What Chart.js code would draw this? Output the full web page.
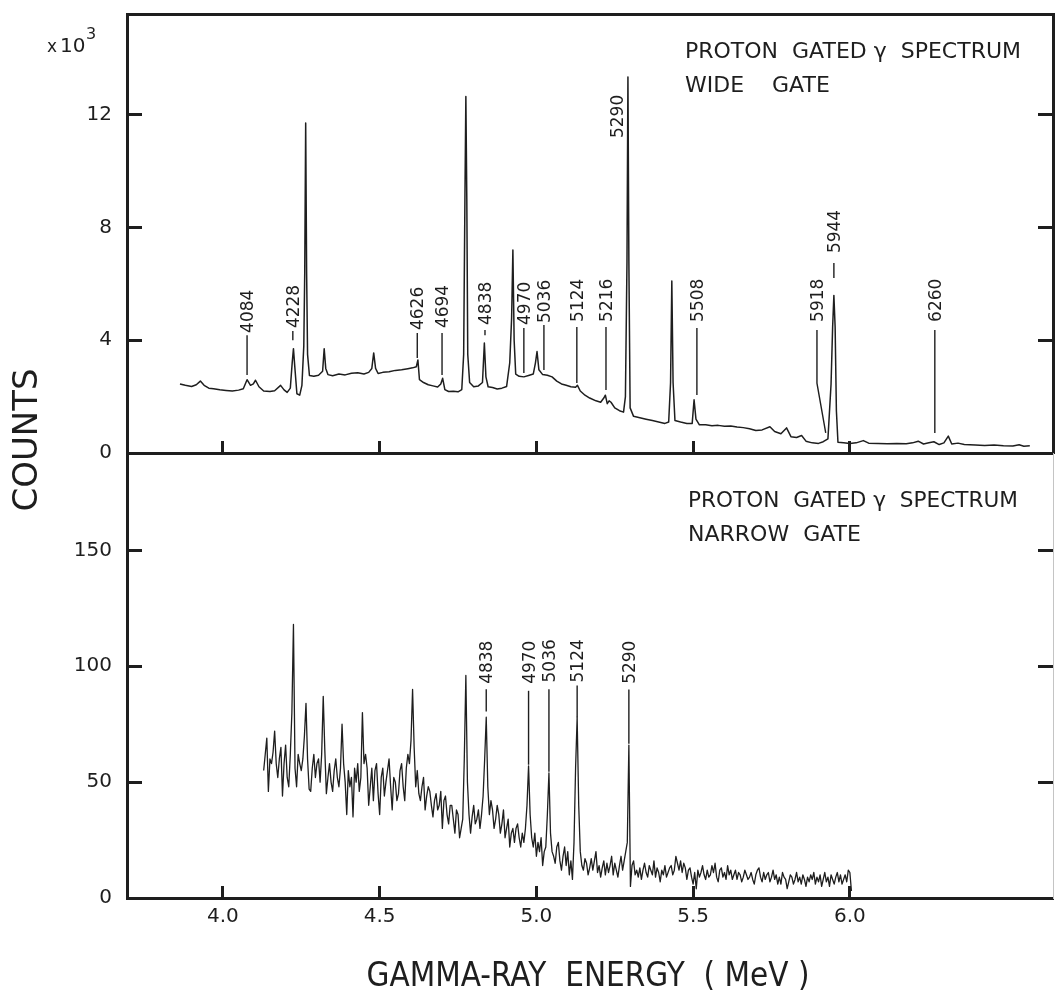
<!DOCTYPE html>
<html>
<head>
<meta charset="utf-8">
<title>Proton gated gamma spectra</title>
<script src="https://cdn.jsdelivr.net/npm/chart.js@4.4.1/dist/chart.umd.min.js"></script>
<style>
  html, body { margin: 0; padding: 0; background: #fff; }
  #figure { position: relative; width: 1058px; height: 994px; overflow: hidden; background: #fff; }
  #figure canvas { position: absolute; left: 0; }
  #wideChart { top: 0; }
  #narrowChart { top: 340px; }
</style>
</head>
<body>
<div id="figure">
  <canvas id="wideChart" width="1058" height="470"></canvas>
  <canvas id="narrowChart" width="1058" height="654"></canvas>
</div>
<script>
const INK = '#1e1e1e';
const FONT = '"DejaVu Sans", "Liberation Sans", sans-serif';
const CAP = 0.73;

// energy axis (MeV), shared by both panels
const energyRange = [3.694, 6.648];
const energyTicks = [4.0, 4.5, 5.0, 5.5, 6.0];

// wide gate spectrum, counts x10^3
const wideRange = [0, 15.57];
const wideTicks = [0, 4, 8, 12];
const wideRightTicks = [4, 8, 12];
const wideEnergy = [
    3.863, 3.880, 3.900, 3.915, 3.928, 3.940, 3.955, 3.970, 3.990, 4.010,
    4.030, 4.050, 4.065, 4.077, 4.088, 4.097, 4.104, 4.115, 4.130, 4.150,
    4.165, 4.184, 4.195, 4.205, 4.215, 4.221, 4.225, 4.229, 4.236, 4.245,
    4.252, 4.258, 4.261, 4.264, 4.267, 4.270, 4.276, 4.290, 4.305, 4.318,
    4.323, 4.328, 4.335, 4.350, 4.370, 4.390, 4.410, 4.430, 4.450, 4.465,
    4.475, 4.481, 4.487, 4.495, 4.510, 4.530, 4.550, 4.570, 4.590, 4.605,
    4.617, 4.622, 4.627, 4.640, 4.655, 4.670, 4.685, 4.695, 4.701, 4.708,
    4.720, 4.735, 4.750, 4.762, 4.768, 4.772, 4.775, 4.778, 4.781, 4.787,
    4.800, 4.815, 4.828, 4.834, 4.839, 4.846, 4.860, 4.875, 4.890, 4.905,
    4.915, 4.921, 4.925, 4.929, 4.934, 4.945, 4.960, 4.975, 4.990, 4.997,
    5.002, 5.008, 5.020, 5.035, 5.050, 5.065, 5.080, 5.095, 5.110, 5.125,
    5.131, 5.140, 5.155, 5.170, 5.190, 5.205, 5.215, 5.220, 5.226, 5.232,
    5.238, 5.250, 5.265, 5.278, 5.284, 5.289, 5.292, 5.295, 5.299, 5.310,
    5.330, 5.350, 5.370, 5.390, 5.410, 5.422, 5.428, 5.432, 5.436, 5.442,
    5.460, 5.480, 5.497, 5.503, 5.509, 5.520, 5.540, 5.560, 5.580, 5.600,
    5.620, 5.640, 5.660, 5.680, 5.700, 5.720, 5.745, 5.760, 5.780, 5.798,
    5.812, 5.830, 5.846, 5.860, 5.880, 5.900, 5.915, 5.930, 5.940, 5.945,
    5.949, 5.953, 5.957, 5.962, 5.980, 6.000, 6.020, 6.043, 6.060, 6.090,
    6.120, 6.150, 6.180, 6.200, 6.218, 6.235, 6.252, 6.268, 6.285, 6.300,
    6.314, 6.325, 6.345, 6.365, 6.400, 6.430, 6.460, 6.490, 6.520, 6.540,
    6.555, 6.574
];
const wideCounts = [
    2.45, 2.40, 2.36, 2.42, 2.55, 2.40, 2.30, 2.28, 2.24, 2.22,
    2.20, 2.23, 2.28, 2.60, 2.40, 2.45, 2.58, 2.35, 2.20, 2.18,
    2.21, 2.40, 2.24, 2.15, 2.30, 3.20, 3.70, 3.10, 2.10, 2.05,
    2.40, 3.80, 6.40, 11.70, 6.40, 3.50, 2.75, 2.72, 2.76, 2.90,
    3.70, 3.00, 2.78, 2.74, 2.80, 2.77, 2.83, 2.85, 2.80, 2.86,
    3.00, 3.55, 3.00, 2.82, 2.86, 2.88, 2.93, 2.95, 2.99, 3.02,
    3.06, 3.30, 2.60, 2.50, 2.42, 2.38, 2.34, 2.45, 2.65, 2.25,
    2.18, 2.19, 2.17, 2.25, 3.50, 9.00, 12.64, 9.00, 3.50, 2.50,
    2.35, 2.38, 2.50, 3.90, 2.70, 2.35, 2.32, 2.27, 2.30, 2.36,
    3.20, 4.80, 7.20, 4.00, 2.80, 2.72, 2.70, 2.75, 2.80, 3.20,
    3.60, 2.95, 2.78, 2.76, 2.70, 2.55, 2.45, 2.40, 2.35, 2.33,
    2.40, 2.20, 2.05, 1.95, 1.85, 1.80, 1.95, 2.05, 1.75, 1.85,
    1.80, 1.60, 1.50, 1.45, 2.00, 6.80, 13.34, 6.80, 1.60, 1.30,
    1.25, 1.20, 1.15, 1.10, 1.05, 1.10, 2.50, 6.10, 2.50, 1.15,
    1.10, 1.05, 1.05, 1.89, 1.20, 1.00, 1.00, 0.97, 0.98, 0.95,
    0.96, 0.92, 0.90, 0.86, 0.80, 0.82, 0.93, 0.76, 0.68, 0.89,
    0.58, 0.55, 0.62, 0.42, 0.36, 0.34, 0.40, 0.50, 2.45, 4.46,
    5.59, 4.46, 1.50, 0.38, 0.36, 0.34, 0.36, 0.44, 0.35, 0.34,
    0.33, 0.34, 0.33, 0.36, 0.42, 0.32, 0.36, 0.40, 0.30, 0.36,
    0.60, 0.32, 0.35, 0.30, 0.28, 0.27, 0.28, 0.26, 0.25, 0.29,
    0.24, 0.26
];

// narrow gate spectrum, counts per channel
const narrowRange = [0, 192];
const narrowTicks = [0, 50, 100, 150];
const narrowRightTicks = [50, 100, 150];
const narrowEnergy = [
    4.130, 4.135, 4.140, 4.145, 4.150, 4.155, 4.160, 4.165, 4.170, 4.175,
    4.180, 4.185, 4.190, 4.195, 4.200, 4.205, 4.210, 4.215, 4.220, 4.225,
    4.230, 4.235, 4.240, 4.245, 4.250, 4.255, 4.260, 4.265, 4.270, 4.275,
    4.280, 4.285, 4.290, 4.295, 4.300, 4.305, 4.310, 4.315, 4.320, 4.325,
    4.330, 4.335, 4.340, 4.345, 4.350, 4.355, 4.360, 4.365, 4.370, 4.375,
    4.380, 4.385, 4.390, 4.395, 4.400, 4.405, 4.410, 4.415, 4.420, 4.425,
    4.430, 4.435, 4.440, 4.445, 4.450, 4.455, 4.460, 4.465, 4.470, 4.475,
    4.480, 4.485, 4.490, 4.495, 4.500, 4.505, 4.510, 4.515, 4.520, 4.525,
    4.530, 4.535, 4.540, 4.545, 4.550, 4.555, 4.560, 4.565, 4.570, 4.575,
    4.580, 4.585, 4.590, 4.595, 4.600, 4.605, 4.610, 4.615, 4.620, 4.625,
    4.630, 4.635, 4.640, 4.645, 4.650, 4.655, 4.660, 4.665, 4.670, 4.675,
    4.680, 4.685, 4.690, 4.695, 4.700, 4.705, 4.710, 4.715, 4.720, 4.725,
    4.730, 4.735, 4.740, 4.745, 4.750, 4.755, 4.760, 4.765, 4.770, 4.775,
    4.780, 4.785, 4.790, 4.795, 4.800, 4.805, 4.810, 4.815, 4.820, 4.825,
    4.830, 4.835, 4.840, 4.845, 4.850, 4.855, 4.860, 4.865, 4.870, 4.875,
    4.880, 4.885, 4.890, 4.895, 4.900, 4.905, 4.910, 4.915, 4.920, 4.925,
    4.930, 4.935, 4.940, 4.945, 4.950, 4.955, 4.960, 4.965, 4.970, 4.975,
    4.980, 4.985, 4.990, 4.995, 5.000, 5.005, 5.010, 5.015, 5.020, 5.025,
    5.030, 5.035, 5.040, 5.045, 5.050, 5.055, 5.060, 5.065, 5.070, 5.075,
    5.080, 5.085, 5.090, 5.095, 5.100, 5.105, 5.110, 5.115, 5.120, 5.125,
    5.130, 5.135, 5.140, 5.145, 5.150, 5.155, 5.160, 5.165, 5.170, 5.175,
    5.180, 5.185, 5.190, 5.195, 5.200, 5.205, 5.210, 5.215, 5.220, 5.225,
    5.230, 5.235, 5.240, 5.245, 5.250, 5.255, 5.260, 5.265, 5.270, 5.275,
    5.280, 5.285, 5.290, 5.295, 5.300, 5.305, 5.310, 5.315, 5.320, 5.325,
    5.330, 5.335, 5.340, 5.345, 5.350, 5.355, 5.360, 5.365, 5.370, 5.375,
    5.380, 5.385, 5.390, 5.395, 5.400, 5.405, 5.410, 5.415, 5.420, 5.425,
    5.430, 5.435, 5.440, 5.445, 5.450, 5.455, 5.460, 5.465, 5.470, 5.475,
    5.480, 5.485, 5.490, 5.495, 5.500, 5.505, 5.510, 5.515, 5.520, 5.525,
    5.530, 5.535, 5.540, 5.545, 5.550, 5.555, 5.560, 5.565, 5.570, 5.575,
    5.580, 5.585, 5.590, 5.595, 5.600, 5.605, 5.610, 5.615, 5.620, 5.625,
    5.630, 5.635, 5.640, 5.645, 5.650, 5.655, 5.660, 5.665, 5.670, 5.675,
    5.680, 5.685, 5.690, 5.695, 5.700, 5.705, 5.710, 5.715, 5.720, 5.725,
    5.730, 5.735, 5.740, 5.745, 5.750, 5.755, 5.760, 5.765, 5.770, 5.775,
    5.780, 5.785, 5.790, 5.795, 5.800, 5.805, 5.810, 5.815, 5.820, 5.825,
    5.830, 5.835, 5.840, 5.845, 5.850, 5.855, 5.860, 5.865, 5.870, 5.875,
    5.880, 5.885, 5.890, 5.895, 5.900, 5.905, 5.910, 5.915, 5.920, 5.925,
    5.930, 5.935, 5.940, 5.945, 5.950, 5.955, 5.960, 5.965, 5.970, 5.975,
    5.980, 5.985, 5.990, 5.995, 6.000, 6.005
];
const narrowCounts = [
    55, 62, 69, 46, 60, 58, 63, 72, 58, 52,
    60, 65, 44, 58, 66, 52, 48, 62, 80, 118,
    56, 48, 62, 58, 55, 60, 70, 84, 60, 47,
    46, 56, 62, 52, 58, 60, 50, 62, 87, 64,
    45, 52, 58, 50, 46, 55, 60, 52, 48, 56,
    75, 58, 50, 36, 55, 48, 52, 35, 56, 50,
    58, 46, 52, 80, 58, 62, 56, 40, 48, 56,
    42, 55, 58, 45, 36, 52, 56, 44, 50, 55,
    60, 48, 38, 52, 50, 42, 45, 55, 58, 48,
    42, 56, 62, 58, 68, 90, 65, 48, 55, 45,
    42, 48, 52, 38, 44, 48, 46, 40, 35, 42,
    45, 38, 40, 46, 30, 42, 44, 36, 32, 40,
    40, 34, 28, 38, 36, 26, 30, 34, 60, 96,
    50, 36, 28, 35, 40, 32, 34, 38, 30, 36,
    44, 60, 78, 48, 36, 42, 38, 30, 34, 40,
    36, 28, 32, 38, 26, 30, 34, 22, 28, 30,
    24, 30, 32, 26, 22, 28, 24, 30, 40, 57,
    36, 26, 22, 28, 18, 24, 20, 26, 14, 20,
    22, 36, 54, 28, 20, 18, 15, 22, 24, 16,
    12, 18, 22, 14, 20, 10, 16, 8, 24, 56,
    78, 40, 20, 14, 12, 17, 15, 10, 13, 17,
    12, 16, 20, 11, 14, 9, 13, 16, 10, 15,
    11, 14, 18, 10, 15, 12, 9, 14, 18, 12,
    16, 20, 24, 66, 5, 14, 16, 10, 12, 9,
    13, 8, 12, 15, 11, 9, 14, 12, 10, 16,
    9, 13, 11, 7, 12, 10, 14, 9, 11, 13,
    14, 10, 12, 18, 15, 12, 16, 11, 15, 13,
    8, 12, 13, 9, 6, 11, 4, 12, 9, 11,
    14, 10, 8, 12, 9, 10, 14, 11, 15, 9,
    7, 12, 13, 9, 11, 8, 14, 10, 12, 8,
    10, 12, 8, 11, 10, 7, 9, 12, 10, 8,
    9, 11, 8, 6, 10, 12, 13, 9, 7, 11,
    8, 10, 11, 7, 9, 12, 8, 10, 6, 9,
    6, 11, 9, 8, 4, 7, 10, 9, 6, 8,
    11, 7, 9, 6, 10, 8, 5, 9, 7, 10,
    8, 11, 6, 9, 7, 10, 5, 8, 11, 7,
    9, 5, 10, 8, 6, 9, 11, 7, 10, 6,
    8, 10, 7, 12, 11, 3
];

// peak labels: energy of the leader, where the text starts, leader span (in counts)
const wideMarks = [
    { label: '4084', e: 4.077, textAt: 4.26, lead: [4.18, 2.77] },
    { label: '4228', e: 4.223, textAt: 4.43, lead: [4.33, 4.00] },
    { label: '4626', e: 4.620, textAt: 4.36, lead: [4.26, 3.37] },
    { label: '4694', e: 4.699, textAt: 4.43, lead: [4.26, 2.77] },
    { label: '4838', e: 4.836, textAt: 4.54, lead: [4.36, 4.18] },
    { label: '4970', e: 4.960, textAt: 4.54, lead: [4.43, 2.84] },
    { label: '5036', e: 5.024, textAt: 4.61, lead: [4.54, 2.94] },
    { label: '5124', e: 5.129, textAt: 4.65, lead: [4.47, 2.48] },
    { label: '5216', e: 5.222, textAt: 4.65, lead: [4.47, 2.23] },
    { label: '5290', e: 5.257, textAt: 11.17, lead: null },
    { label: '5508', e: 5.512, textAt: 4.65, lead: [4.43, 2.06] },
    { label: '5918', e: 5.895, textAt: 4.65, lead: [4.36, 2.48], bend: [5.923, 0.71] },
    { label: '5944', e: 5.949, textAt: 7.09, lead: [6.74, 6.21] },
    { label: '6260', e: 6.271, textAt: 4.65, lead: [4.36, 0.71] }
];
const narrowMarks = [
    { label: '4838', e: 4.840, textAt: 92.4, lead: [90.1, 80.5] },
    { label: '4970', e: 4.975, textAt: 92.4, lead: [89.4, 57.5] },
    { label: '5036', e: 5.040, textAt: 93.0, lead: [90.1, 54.5] },
    { label: '5124', e: 5.130, textAt: 93.0, lead: [91.7, 78.0] },
    { label: '5290', e: 5.295, textAt: 92.4, lead: [90.0, 66.5] }
];

function toPoints(xs, ys) {
    return xs.map((x, i) => ({ x: x, y: ys[i] }));
}

function fixedTicks(values) {
    return function (scale) {
        scale.ticks = values.map(v => ({ value: v }));
    };
}

// pin a scale to a given thickness and stop it from pushing the chart area around
function pinSize(prop, size) {
    return function (scale) {
        scale[prop] = size;
        scale.paddingTop = 0;
        scale.paddingBottom = 0;
        scale.paddingLeft = 0;
        scale.paddingRight = 0;
    };
}

function drawUpText(ctx, text, x, y, size, align) {
    ctx.save();
    ctx.translate(x, y);
    ctx.rotate(-Math.PI / 2);
    ctx.font = size + 'px ' + FONT;
    ctx.textAlign = align || 'left';
    ctx.textBaseline = 'alphabetic';
    ctx.fillText(text, 0, size * CAP / 2);
    ctx.restore();
}

const peakLabels = {
    id: 'peakLabels',
    afterDatasetsDraw(chart, args, opts) {
        const ctx = chart.ctx;
        const x = chart.scales.x;
        const y = chart.scales.y;
        ctx.save();
        ctx.strokeStyle = INK;
        ctx.fillStyle = INK;
        ctx.lineWidth = 1.4;
        opts.marks.forEach(m => {
            const px = x.getPixelForValue(m.e);
            if (m.lead) {
                ctx.beginPath();
                ctx.moveTo(px, y.getPixelForValue(m.lead[0]));
                ctx.lineTo(px, y.getPixelForValue(m.lead[1]));
                if (m.bend) {
                    ctx.lineTo(x.getPixelForValue(m.bend[0]), y.getPixelForValue(m.bend[1]));
                }
                ctx.stroke();
            }
            drawUpText(ctx, m.label, px, y.getPixelForValue(m.textAt), 17);
        });
        ctx.restore();
    }
};

// free text of the figure (captions, axis titles), in canvas pixels
const captions = {
    id: 'captions',
    afterDraw(chart, args, opts) {
        const ctx = chart.ctx;
        ctx.save();
        ctx.fillStyle = INK;
        opts.items.forEach(t => {
            if (t.up) {
                drawUpText(ctx, t.text, t.x, t.y, t.size, 'center');
                return;
            }
            ctx.font = t.size + 'px ' + FONT;
            ctx.textAlign = t.align || 'left';
            ctx.textBaseline = 'alphabetic';
            if (t.maxWidth) {
                ctx.fillText(t.text, t.x, t.y, t.maxWidth);
            } else {
                ctx.fillText(t.text, t.x, t.y);
            }
        });
        ctx.restore();
    }
};

function energyAxis(showLabels, height) {
    return {
        type: 'linear',
        position: 'bottom',
        min: energyRange[0],
        max: energyRange[1],
        afterBuildTicks: fixedTicks(energyTicks),
        afterFit: pinSize('height', height),
        ticks: {
            display: showLabels,
            padding: 19,
            color: INK,
            font: { family: FONT, size: 20 },
            maxRotation: 0,
            callback: v => v.toFixed(1)
        },
        grid: { drawOnChartArea: false, tickLength: -12, tickWidth: 3, tickColor: INK },
        border: { display: true, width: 3, color: INK }
    };
}

function countAxis(range, ticks, width) {
    return {
        type: 'linear',
        position: 'left',
        min: range[0],
        max: range[1],
        afterBuildTicks: fixedTicks(ticks),
        afterFit: pinSize('width', width),
        ticks: {
            padding: 30,
            color: INK,
            font: { family: FONT, size: 20 },
            callback: v => String(v)
        },
        grid: { drawOnChartArea: false, tickLength: -15, tickWidth: 3, tickColor: INK },
        border: { display: true, width: 3, color: INK }
    };
}

function rightAxis(range, ticks, borderColor, borderWidth) {
    return {
        type: 'linear',
        position: 'right',
        min: range[0],
        max: range[1],
        afterBuildTicks: fixedTicks(ticks),
        afterFit: pinSize('width', 5),
        ticks: { display: false },
        grid: { drawOnChartArea: false, tickLength: -15, tickWidth: 3, tickColor: INK },
        border: { display: true, width: borderWidth, color: borderColor }
    };
}

function spectrumDataset(xs, ys, width) {
    return {
        data: toPoints(xs, ys),
        borderColor: INK,
        borderWidth: width,
        borderJoinStyle: 'round',
        pointRadius: 0,
        tension: 0,
        fill: false
    };
}

const baseOptions = {
    responsive: false,
    animation: false,
    devicePixelRatio: 1,
    events: [],
    plugins: { legend: { display: false }, tooltip: { enabled: false } }
};

new Chart(document.getElementById('wideChart'), {
    type: 'line',
    data: { datasets: [spectrumDataset(wideEnergy, wideCounts, 1.5)] },
    options: Object.assign({}, baseOptions, {
        layout: { padding: 0 },
        scales: {
            x: energyAxis(false, 17),
            xTop: {
                type: 'linear',
                position: 'top',
                min: energyRange[0],
                max: energyRange[1],
                afterFit: pinSize('height', 14),
                ticks: { display: false },
                grid: { display: false },
                border: { display: true, width: 3, color: INK }
            },
            y: countAxis(wideRange, wideTicks, 127),
            yRight: rightAxis(wideRange, wideRightTicks, INK, 3)
        },
        plugins: Object.assign({}, baseOptions.plugins, {
            peakLabels: { marks: wideMarks },
            captions: {
                items: [
                    { text: 'x', x: 47, y: 52, size: 17 },
                    { text: '10', x: 60, y: 52, size: 20 },
                    { text: '3', x: 86, y: 39, size: 16 },
                    { text: 'PROTON  GATED \u03b3  SPECTRUM', x: 685, y: 58, size: 22, maxWidth: 337 },
                    { text: 'WIDE    GATE', x: 685, y: 92, size: 22, maxWidth: 148 }
                ]
            }
        })
    }),
    plugins: [peakLabels, captions]
});

// bottom canvas starts 340px down the page
new Chart(document.getElementById('narrowChart'), {
    type: 'line',
    data: { datasets: [spectrumDataset(narrowEnergy, narrowCounts, 1.3)] },
    options: Object.assign({}, baseOptions, {
        layout: { padding: { top: 113, left: 0, right: 0, bottom: 0 } },
        scales: {
            x: energyAxis(true, 96),
            y: countAxis(narrowRange, narrowTicks, 127),
            yRight: rightAxis(narrowRange, narrowRightTicks, '#c4c4c4', 1)
        },
        plugins: Object.assign({}, baseOptions.plugins, {
            peakLabels: { marks: narrowMarks },
            captions: {
                items: [
                    { text: 'PROTON  GATED \u03b3  SPECTRUM', x: 688, y: 167, size: 22, maxWidth: 330 },
                    { text: 'NARROW  GATE', x: 688, y: 201, size: 22, maxWidth: 185 },
                    { text: 'COUNTS', x: 25, y: 100, size: 34, up: true },
                    { text: 'GAMMA-RAY  ENERGY  ( MeV )', x: 588, y: 646, size: 34, align: 'center', maxWidth: 443 }
                ]
            }
        })
    }),
    plugins: [peakLabels, captions]
});
</script>
</body>
</html>
